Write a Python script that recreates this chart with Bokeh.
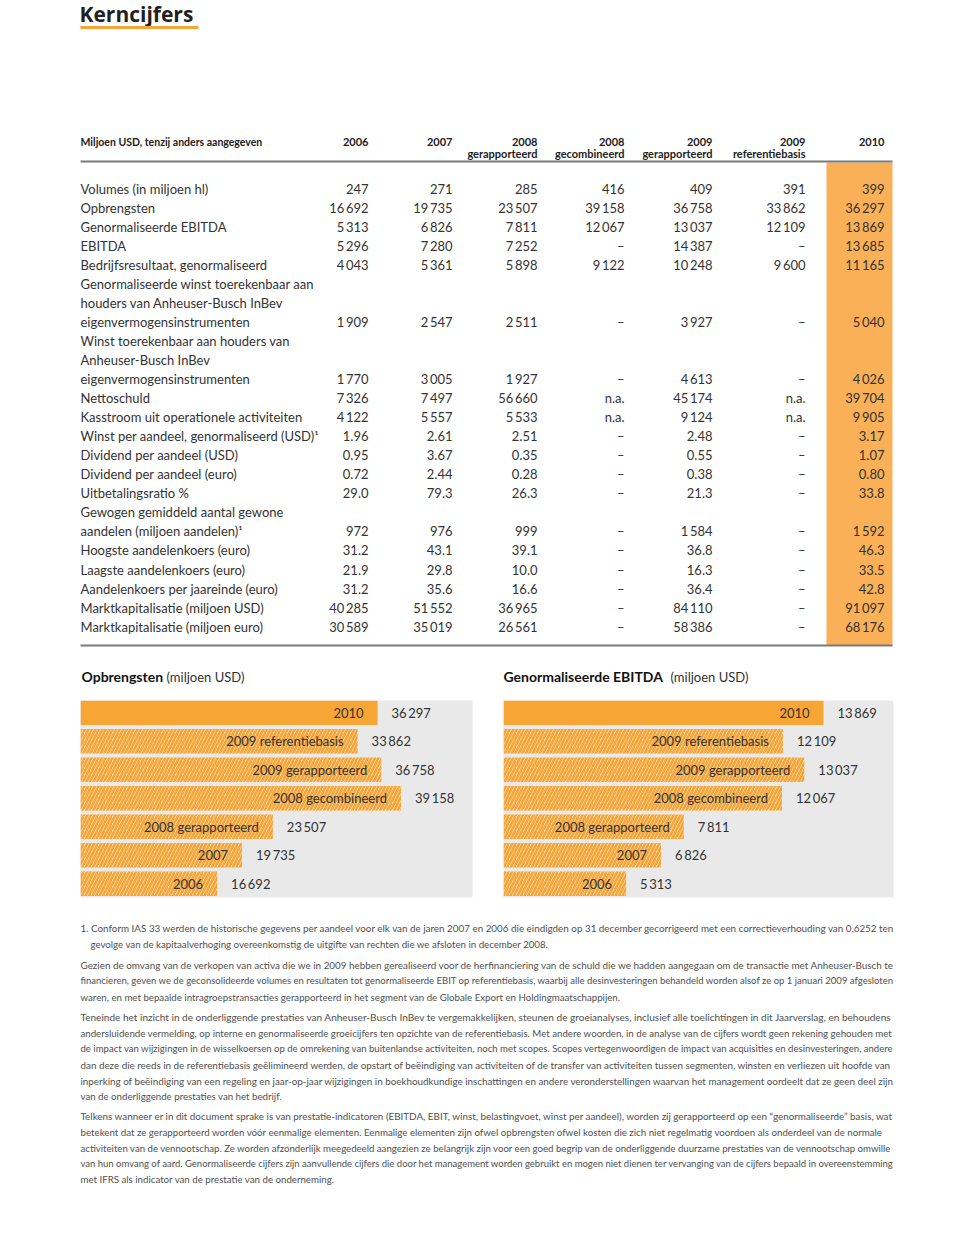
from bokeh.plotting import figure
from bokeh.layouts import column, row
from bokeh.models import Range1d, ColumnDataSource
from bokeh.embed import file_html
from bokeh.resources import INLINE
from bokeh.core.properties import value

FONT = "Lato"
TXT = "#333333"
ORANGE = "#f7a535"
ORANGE_COL = "#f9b056"

# ---------------- data ----------------
page_title = "Kerncijfers"
table_caption = "Miljoen USD, tenzij anders aangegeven"
header_line1 = ["2006", "2007", "2008", "2008", "2009", "2009", "2010"]
header_line2 = ["", "", "gerapporteerd", "gecombineerd", "gerapporteerd", "referentiebasis", ""]

row_labels = [
    "Volumes (in miljoen hl)",
    "Opbrengsten",
    "Genormaliseerde EBITDA",
    "EBITDA",
    "Bedrijfsresultaat, genormaliseerd",
    "Genormaliseerde winst toerekenbaar aan",
    "houders van Anheuser-Busch InBev",
    "eigenvermogensinstrumenten",
    "Winst toerekenbaar aan houders van",
    "Anheuser-Busch InBev",
    "eigenvermogensinstrumenten",
    "Nettoschuld",
    "Kasstroom uit operationele activiteiten",
    "Winst per aandeel, genormaliseerd (USD)\u00b9",
    "Dividend per aandeel (USD)",
    "Dividend per aandeel (euro)",
    "Uitbetalingsratio %",
    "Gewogen gemiddeld aantal gewone",
    "aandelen (miljoen aandelen)\u00b9",
    "Hoogste aandelenkoers (euro)",
    "Laagste aandelenkoers (euro)",
    "Aandelenkoers per jaareinde (euro)",
    "Marktkapitalisatie (miljoen USD)",
    "Marktkapitalisatie (miljoen euro)",
]
S = "\u2009"
D = "\u2013"
col_2006 = ["247", f"16{S}692", f"5{S}313", f"5{S}296", f"4{S}043", "", "", f"1{S}909", "", "", f"1{S}770",
            f"7{S}326", f"4{S}122", "1.96", "0.95", "0.72", "29.0", "", "972", "31.2", "21.9", "31.2",
            f"40{S}285", f"30{S}589"]
col_2007 = ["271", f"19{S}735", f"6{S}826", f"7{S}280", f"5{S}361", "", "", f"2{S}547", "", "", f"3{S}005",
            f"7{S}497", f"5{S}557", "2.61", "3.67", "2.44", "79.3", "", "976", "43.1", "29.8", "35.6",
            f"51{S}552", f"35{S}019"]
col_2008_rap = ["285", f"23{S}507", f"7{S}811", f"7{S}252", f"5{S}898", "", "", f"2{S}511", "", "", f"1{S}927",
                f"56{S}660", f"5{S}533", "2.51", "0.35", "0.28", "26.3", "", "999", "39.1", "10.0", "16.6",
                f"36{S}965", f"26{S}561"]
col_2008_comb = ["416", f"39{S}158", f"12{S}067", D, f"9{S}122", "", "", D, "", "", D,
                 "n.a.", "n.a.", D, D, D, D, "", D, D, D, D, D, D]
col_2009_rap = ["409", f"36{S}758", f"13{S}037", f"14{S}387", f"10{S}248", "", "", f"3{S}927", "", "", f"4{S}613",
                f"45{S}174", f"9{S}124", "2.48", "0.55", "0.38", "21.3", "", f"1{S}584", "36.8", "16.3", "36.4",
                f"84{S}110", f"58{S}386"]
col_2009_ref = ["391", f"33{S}862", f"12{S}109", D, f"9{S}600", "", "", D, "", "", D,
                "n.a.", "n.a.", D, D, D, D, "", D, D, D, D, D, D]
col_2010 = ["399", f"36{S}297", f"13{S}869", f"13{S}685", f"11{S}165", "", "", f"5{S}040", "", "", f"4{S}026",
            f"39{S}704", f"9{S}905", "3.17", "1.07", "0.80", "33.8", "", f"1{S}592", "46.3", "33.5", "42.8",
            f"91{S}097", f"68{S}176"]
table_columns = [col_2006, col_2007, col_2008_rap, col_2008_comb, col_2009_rap, col_2009_ref, col_2010]

bar_labels = ["2010", "2009 referentiebasis", "2009 gerapporteerd", "2008 gecombineerd",
              "2008 gerapporteerd", "2007", "2006"]
revenue = [36297, 33862, 36758, 39158, 23507, 19735, 16692]
norm_ebitda = [13869, 12109, 13037, 12067, 7811, 6826, 5313]
bar_highlight = [True, False, False, False, False, False, False]

chart1_title = ("Opbrengsten", "(miljoen USD)")
chart2_title = ("Genormaliseerde EBITDA", "(miljoen USD)")

notes = [
    "1. Conform IAS 33 werden de historische gegevens per aandeel voor elk van de jaren 2007 en 2006 die eindigden op 31 december gecorrigeerd met een correctieverhouding van 0,6252 ten",
    "gevolge van de kapitaalverhoging overeenkomstig de uitgifte van rechten die we afsloten in december 2008.",
    "Gezien de omvang van de verkopen van activa die we in 2009 hebben gerealiseerd voor de herfinanciering van de schuld die we hadden aangegaan om de transactie met Anheuser-Busch te",
    "financieren, geven we de geconsolideerde volumes en resultaten tot genormaliseerde EBIT op referentiebasis, waarbij alle desinvesteringen behandeld worden alsof ze op 1 januari 2009 afgesloten",
    "waren, en met bepaalde intragroepstransacties gerapporteerd in het segment van de Globale Export en Holdingmaatschappijen.",
    "Teneinde het inzicht in de onderliggende prestaties van Anheuser-Busch InBev te vergemakkelijken, steunen de groeianalyses, inclusief alle toelichtingen in dit Jaarverslag, en behoudens",
    "andersluidende vermelding, op interne en genormaliseerde groeicijfers ten opzichte van de referentiebasis. Met andere woorden, in de analyse van de cijfers wordt geen rekening gehouden met",
    "de impact van wijzigingen in de wisselkoersen op de omrekening van buitenlandse activiteiten, noch met scopes. Scopes vertegenwoordigen de impact van acquisities en desinvesteringen, andere",
    "dan deze die reeds in de referentiebasis geëlimineerd werden, de opstart of beëindiging van activiteiten of de transfer van activiteiten tussen segmenten, winsten en verliezen uit hoofde van",
    "inperking of beëindiging van een regeling en jaar-op-jaar wijzigingen in boekhoudkundige inschattingen en andere veronderstellingen waarvan het management oordeelt dat ze geen deel zijn",
    "van de onderliggende prestaties van het bedrijf.",
    "Telkens wanneer er in dit document sprake is van prestatie-indicatoren (EBITDA, EBIT, winst, belastingvoet, winst per aandeel), worden zij gerapporteerd op een \u201cgenormaliseerde\u201d basis, wat",
    "betekent dat ze gerapporteerd worden vóór eenmalige elementen. Eenmalige elementen zijn ofwel opbrengsten ofwel kosten die zich niet regelmatig voordoen als onderdeel van de normale",
    "activiteiten van de vennootschap. Ze worden afzonderlijk meegedeeld aangezien ze belangrijk zijn voor een goed begrip van de onderliggende duurzame prestaties van de vennootschap omwille",
    "van hun omvang of aard. Genormaliseerde cijfers zijn aanvullende cijfers die door het management worden gebruikt en mogen niet dienen ter vervanging van de cijfers bepaald in overeenstemming",
    "met IFRS als indicator van de prestatie van de onderneming.",
]

# ---------------- layout / style constants ----------------
COL_RIGHT = [368, 452, 537, 624, 712, 805, 884]
ROW_Y0, ROW_DY = 188, 19.05
NOTE_Y = [927, 943, 964, 980, 996, 1016, 1032, 1048, 1064, 1080, 1095, 1115, 1131, 1147, 1163, 1178]
NOTE_X = [80, 90] + [80] * 14
# per-line font size, tuned so justified lines fill the text column
NOTE_SIZE = ["9.85px", "9.7px", "9.88px", "9.52px", "9.7px", "10.05px", "9.69px", "9.58px",
             "9.83px", "9.85px", "9.7px", "9.85px", "9.72px", "9.65px", "9.5px", "9.7px"]


def base_fig(width, height, xr, yr, **kw):
    f = figure(width=width, height=height, x_range=xr, y_range=yr, output_backend="svg",
               toolbar_location=None, x_axis_location=None, y_axis_location=None, **kw)
    f.grid.visible = False
    f.outline_line_color = None
    return f


def txt(f, x, y, t, size, style="normal", align="left", color=TXT, font=FONT, **kw):
    f.text(x=x, y=y, text=t, text_font=value(font), text_font_size=size,
           text_font_style=style, text_align=align, text_baseline="middle", text_color=color, **kw)


# ---------------- top: title + table ----------------
top = base_fig(960, 690, Range1d(0, 960), Range1d(690, 0), min_border=0)

txt(top, [79], [13.5], [page_title], "21px", "bold", color="#231f20", font="Open Sans")
top.segment(x0=[80], y0=[27], x1=[198], y1=[27], line_color=ORANGE, line_width=3)

# orange highlight column
n_rows = len(row_labels)
top.quad(left=[826], right=[892], top=[162], bottom=[645], fill_color=ORANGE_COL, line_color=None)

# header
txt(top, [80], [141], [table_caption], "10.5px", "bold", color="#222222")
for i, xr in enumerate(COL_RIGHT):
    txt(top, [xr], [141], [header_line1[i]], "11px", "bold", "right", color="#222222")
    if header_line2[i]:
        txt(top, [xr], [153], [header_line2[i]], "11px", "bold", "right", color="#222222")

top.segment(x0=[80, 80], y0=[161, 645], x1=[892, 892], y1=[161, 645], line_color="#7a7a7a", line_width=2)

row_y = [ROW_Y0 + i * ROW_DY for i in range(n_rows)]
txt(top, [80] * n_rows, row_y, row_labels, "13px")
for ci, col in enumerate(table_columns):
    txt(top, [COL_RIGHT[ci]] * n_rows, row_y, col, "13px", align="right")

# chart titles
txt(top, [81], [676], [chart1_title[0]], "14px", "bold", color="#111111")
txt(top, [166], [676], [chart1_title[1]], "13px")
txt(top, [503], [676], [chart2_title[0]], "14px", "bold", color="#111111")
txt(top, [670], [676], [chart2_title[1]], "13px")


# ---------------- bar charts ----------------
def bar_chart(values, x_end, width, b_left, b_right):
    f = base_fig(width, 215, Range1d(0, x_end), Range1d(6.48, -0.43),
                 min_border_left=b_left, min_border_right=b_right, min_border_top=10, min_border_bottom=8)
    f.background_fill_color = "#e9e9e9"
    f.border_fill_color = "white"
    idx = list(range(len(values)))
    hi = [i for i in idx if bar_highlight[i]]
    lo = [i for i in idx if not bar_highlight[i]]
    f.hbar(y=hi, left=0, right=[values[i] for i in hi], height=0.86,
           fill_color=ORANGE, line_color=None)
    f.hbar(y=lo, left=0, right=[values[i] for i in lo], height=0.86,
           fill_color="#fde2b6", line_color=None, hatch_pattern="right_diagonal_line",
           hatch_color="#f5a53a", hatch_scale=7, hatch_weight=2.6)
    src = ColumnDataSource(dict(y=idx, v=values, lab=bar_labels,
                                vt=[f"{v:,}".replace(",", "\u2009") for v in values]))
    f.text(x="v", y="y", text="lab", source=src, x_offset=-14, text_align="right",
           text_baseline="middle", text_font=value(FONT), text_font_size="13px", text_color=TXT)
    f.text(x="v", y="y", text="vt", source=src, x_offset=14, text_align="left",
           text_baseline="middle", text_font=value(FONT), text_font_size="13px", text_color=TXT)
    return f


left_chart = bar_chart(revenue, 47900, 488, 80, 16)
right_chart = bar_chart(norm_ebitda, 16900, 472, 15, 67)

# ---------------- footnotes ----------------
bottom = base_fig(960, 341, Range1d(0, 960), Range1d(1246, 905), min_border=0)
note_src = ColumnDataSource(dict(x=NOTE_X, y=NOTE_Y, t=notes, fs=NOTE_SIZE))
bottom.text(x="x", y="y", text="t", source=note_src, text_font=value(FONT), text_font_size="fs",
            text_align="left", text_baseline="middle", text_color="#505050")

layout = column(top, row(left_chart, right_chart), bottom)
open("out.html", "w").write(file_html(layout, INLINE))
